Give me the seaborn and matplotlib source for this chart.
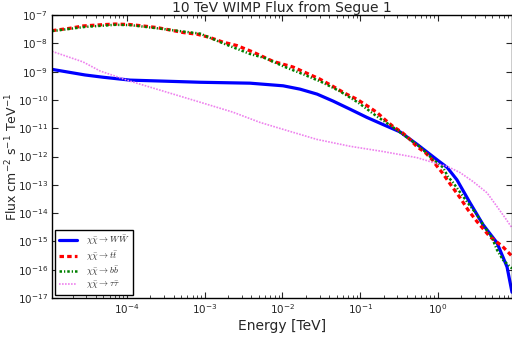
import numpy as np
import pandas as pd
import matplotlib
matplotlib.use("Agg")
import matplotlib.pyplot as plt
import seaborn as sns

sns.set_style("ticks")
plt.rcParams['font.family'] = ['DejaVu Sans']
plt.rcParams['mathtext.fontset'] = 'dejavusans'

# ---- data (Energy in TeV, Flux in cm^-2 s^-1 TeV^-1)
ww_energy = [1.09e-5, 2.90e-5, 5.0e-5, 1.10e-4, 3.0e-4, 8.73e-4, 3.83e-3, 1.02e-2,
             1.68e-2, 2.79e-2, 4.47e-2, 7.39e-2, 0.122, 0.196, 0.325, 0.537, 1.0,
             1.31, 1.75, 2.58, 3.79, 5.73, 7.71, 8.93]
ww_flux = [1.2e-9, 7.6e-10, 6.3e-10, 5.0e-10, 4.6e-10, 4.2e-10, 3.9e-10, 3.15e-10,
           2.4e-10, 1.6e-10, 9.1e-11, 4.7e-11, 2.4e-11, 1.35e-11, 7.4e-12, 2.7e-12,
           7.2e-13, 4.1e-13, 1.5e-13, 2.3e-14, 3.9e-15, 8.9e-16, 1.26e-16, 1.6e-17]

tt_energy = [1.09e-5, 1.86e-5, 2.73e-5, 4.53e-5, 7.05e-5, 1.10e-4, 1.62e-4, 2.44e-4,
             3.59e-4, 5.28e-4, 7.98e-4, 1.17e-3, 1.72e-3, 2.61e-3, 4.19e-3, 7.57e-3,
             1.37e-2, 2.07e-2, 3.04e-2, 4.47e-2, 6.38e-2, 9.10e-2, 0.126, 0.164,
             0.208, 0.264, 0.345, 0.437, 0.537, 0.681, 0.837, 0.971, 1.13, 1.51,
             1.92, 2.43, 3.17, 4.66, 6.65, 8.93]
tt_flux = [2.8e-8, 3.4e-8, 4.1e-8, 4.5e-8, 4.8e-8, 4.6e-8, 4.1e-8, 3.6e-8,
           2.95e-8, 2.4e-8, 2.1e-8, 1.6e-8, 1.1e-8, 8.3e-9, 4.9e-9, 2.3e-9,
           1.45e-9, 8.7e-10, 5.4e-10, 3.0e-10, 1.7e-10, 1.05e-10, 5.9e-11, 3.6e-11,
           2.0e-11, 1.15e-11, 7.1e-12, 4.0e-12, 2.2e-12, 1.4e-12, 7.8e-13, 4.5e-13,
           2.7e-13, 8.7e-14, 3.5e-14, 1.3e-14, 5.0e-15, 1.45e-15, 6.9e-16, 3.0e-16]

bb_energy = [1.09e-5, 2.90e-5, 7.05e-5, 1.10e-4, 2.44e-4, 8.73e-4, 1.72e-3, 3.83e-3,
             5.97e-3, 1.08e-2, 1.84e-2, 3.23e-2, 5.50e-2, 9.37e-2, 0.164, 0.256,
             0.400, 0.587, 0.862, 1.16, 1.34, 1.56, 1.81, 2.36, 3.17, 3.79, 4.94,
             5.73, 6.85, 8.93]
bb_flux = [2.7e-8, 3.8e-8, 4.5e-8, 4.4e-8, 3.4e-8, 2.2e-8, 1.0e-8, 4.2e-9,
           3.0e-9, 1.45e-9, 8.1e-10, 4.2e-10, 2.0e-10, 8.1e-11, 2.6e-11, 1.15e-11,
           4.7e-12, 2.2e-12, 7.8e-13, 4.1e-13, 1.95e-13, 1.2e-13, 6.8e-14, 2.5e-14,
           8.7e-15, 3.9e-15, 1.35e-15, 5.0e-16, 2.2e-16, 1.1e-16]

tau_energy = [1.09e-5, 2.73e-5, 4.53e-5, 1.10e-4, 8.73e-4, 2.3e-3, 5.15e-3, 1.02e-2,
              2.79e-2, 7.39e-2, 0.196, 0.537, 1.06, 1.31, 1.92, 2.82, 4.27, 5.73,
              7.26, 8.93]
tau_flux = [5.2e-9, 2.2e-9, 1.05e-9, 4.6e-10, 8.3e-11, 3.7e-11, 1.6e-11, 9.1e-12,
            4.0e-12, 2.3e-12, 1.5e-12, 9.1e-13, 5.2e-13, 4.5e-13, 2.7e-13, 1.3e-13,
            5.2e-14, 1.7e-14, 6.9e-15, 3.0e-15]

labels = [r'$\chi\bar{\chi}\rightarrow W\bar{W}$',
          r'$\chi\bar{\chi}\rightarrow t\bar{t}$',
          r'$\chi\bar{\chi}\rightarrow b\bar{b}$',
          r'$\chi\bar{\chi}\rightarrow \tau\bar{\tau}$']

title = "10 TeV WIMP Flux from Segue 1"
xlabel = "Energy [TeV]"
ylabel = r"Flux cm$^{-2}$ s$^{-1}$ TeV$^{-1}$"

fig = plt.figure(figsize=(5.12, 3.38), dpi=100)
ax = fig.add_axes([52 / 512, 1 - 298 / 338, 459.5 / 512, 283 / 338])

series = [
    (ww_energy, ww_flux, labels[0], 'blue', '-', 2.3),
    (tt_energy, tt_flux, labels[1], 'red', (0, (1.4, 1.0)), 2.3),
    (bb_energy, bb_flux, labels[2], 'green', (0, (1.0, 0.8, 0.5, 0.8)), 1.8),
    (tau_energy, tau_flux, labels[3], 'violet', (0, (1.0, 0.8)), 1.2),
]
for e, f, lab, c, ls, lw in series:
    df = pd.DataFrame({'E': e, 'F': f})
    sns.lineplot(data=df, x='E', y='F', ax=ax, color=c, linestyle=ls, linewidth=lw,
                 label=lab, sort=False, estimator=None)

ax.set_xscale('log')
ax.set_yscale('log')
ax.set_xlim(1.09e-5, 8.8)
ax.set_ylim(1e-17, 1e-7)
ax.set_yticks([10.0 ** k for k in range(-17, -6)])
ax.tick_params(which='both', direction='in', top=True, right=True, labelsize=7.5)
ax.tick_params(which='major', length=4, width=0.8, pad=3)
ax.tick_params(which='minor', length=2, width=0.6)
for s in ax.spines.values():
    s.set_linewidth(1.0)
    s.set_color('black')

ax.set_title(title, fontsize=10, pad=2)
ax.set_xlabel(xlabel, fontsize=10, labelpad=2)
ax.set_ylabel(ylabel, fontsize=9)
ax.yaxis.set_label_coords(-0.070, 0.5)

plt.rcParams['mathtext.fontset'] = 'cm'
leg = ax.legend(loc='lower left', fontsize=6.5, frameon=True, fancybox=False,
                handlelength=2.0, handletextpad=1.0, borderpad=0.45,
                labelspacing=0.2, borderaxespad=0.3)
leg.get_frame().set_edgecolor('black')
leg.get_frame().set_linewidth(1.0)
leg.get_frame().set_alpha(1.0)
for t in leg.get_texts():
    t.set_fontfamily('serif')

fig.savefig('out.png', dpi=100)
